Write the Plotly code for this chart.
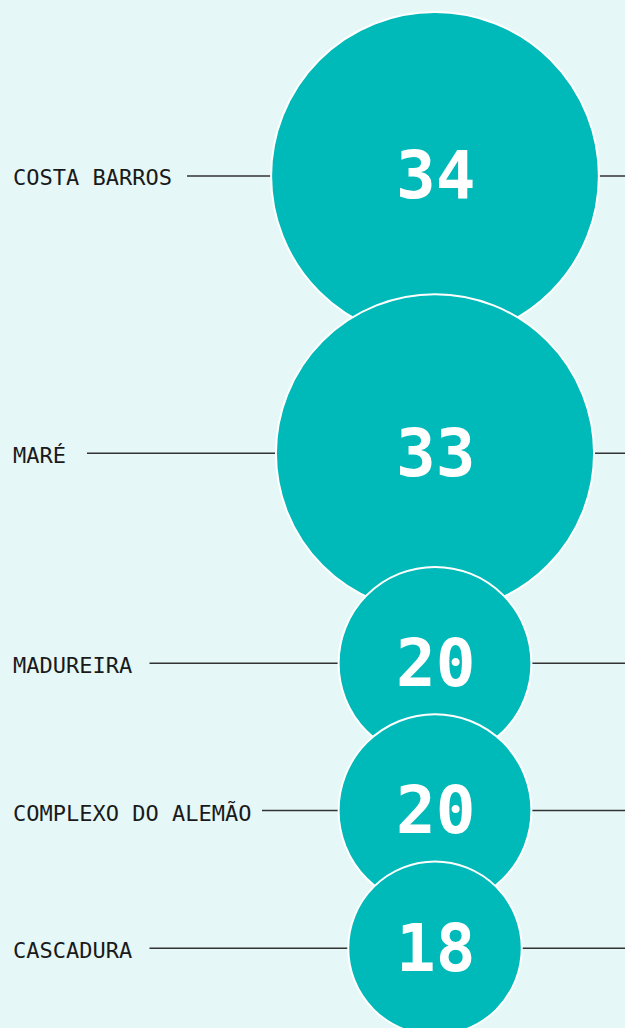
import plotly.graph_objects as go

# ---- data ----
names = ["COSTA BARROS", "MARÉ", "MADUREIRA", "COMPLEXO DO ALEMÃO", "CASCADURA"]
values = [34, 33, 20, 20, 18]

# ---- layout constants ----
W, H = 625, 1028
BG = "#e5f7f7"
TEAL = "#00b9b9"
LINE = "#333333"
PX_PER_UNIT = 4.82      # circle radius (px) per unit of value
OVERLAP = 45.5          # vertical overlap between consecutive circles (px)
FIRST_TOP = 12          # top edge of first circle (px)
CX = 435                # horizontal centre of the column of circles
LABEL_X = 11
LABEL_SIZE = 22
CHAR_W = 12.5
LABEL_GAP = 24

radii = [v * PX_PER_UNIT for v in values]
centers = []
for i, r in enumerate(radii):
    if i == 0:
        centers.append(FIRST_TOP + r)
    else:
        centers.append(centers[-1] + radii[i - 1] + r - OVERLAP)

fig = go.Figure()

# connector lines (drawn under the circles)
lx, ly = [], []
for name, cy in zip(names, centers):
    x0 = 13 + len(name) * CHAR_W + LABEL_GAP
    lx += [x0, W, None]
    ly += [cy, cy, None]
fig.add_trace(go.Scatter(x=lx, y=ly, mode="lines",
                         line=dict(color=LINE, width=1.5),
                         hoverinfo="skip", showlegend=False))

# circles
fig.add_trace(go.Scatter(
    x=[CX] * len(values), y=centers, mode="markers",
    marker=dict(size=[2 * r for r in radii], color=TEAL, opacity=1,
                line=dict(color="white", width=2)),
    hoverinfo="skip", showlegend=False))

# value labels + names
for name, v, cy in zip(names, values, centers):
    fig.add_annotation(x=CX, y=cy, text=f"<b>{v}</b>", showarrow=False,
                       xanchor="center", yanchor="middle",
                       font=dict(family="DejaVu Sans Mono", size=66, color="white"))
    fig.add_annotation(x=LABEL_X, y=cy, text=name, showarrow=False,
                       xanchor="left", yanchor="middle", yshift=-2,
                       font=dict(family="DejaVu Sans Mono", size=LABEL_SIZE, color="#1a1a1a"))

fig.update_layout(
    width=W, height=H,
    margin=dict(l=0, r=0, t=0, b=0),
    paper_bgcolor=BG, plot_bgcolor=BG,
    xaxis=dict(range=[0, W], visible=False, fixedrange=True),
    yaxis=dict(range=[H, 0], visible=False, fixedrange=True),
    showlegend=False,
)

fig.write_html("out.html", config={"displayModeBar": False},
               post_script="document.body.style.margin='0';")
